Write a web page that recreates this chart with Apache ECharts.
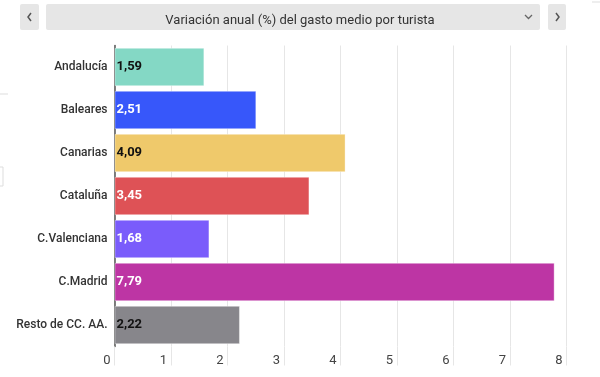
<!DOCTYPE html>
<html><head><meta charset="utf-8">
<script src="https://cdn.jsdelivr.net/npm/echarts@6/dist/echarts.min.js"></script>
<style>html,body{margin:0;padding:0;background:#fff}#c{width:600px;height:377px}</style>
</head><body><div id="c"></div>
<script>
const categories = ['Andalucía','Baleares','Canarias','Cataluña','C.Valenciana','C.Madrid','Resto de CC. AA.'];
const values = [1.59, 2.51, 4.09, 3.45, 1.68, 7.79, 2.22];
const barColors = ['#84d8c5','#3757fa','#efc96b','#de5256','#7a5cfb','#bd35a4','#87868b'];
const labelColors = ['#111','#fff','#111','#fff','#fff','#fff','#111'];
const xTicks = [0,1,2,3,4,5,6,7,8];
const titleText = 'Variación anual (%) del gasto medio por turista';

const chart = echarts.init(document.getElementById('c'));
const cats = categories.slice().reverse();
const vals = values.slice().reverse();
const cols = barColors.slice().reverse();
const lcols = labelColors.slice().reverse();
chart.setOption({
  animation: false,
  textStyle: {fontFamily: 'Roboto'},
  title: {text: titleText, left: 'center', top: 9,
    textStyle: {fontSize: 13, fontWeight: 'normal', color: '#333', fontFamily: 'Roboto'}},
  graphic: [
    {type:'rect', z:-1, shape:{x:20,y:4,width:19,height:26,r:2}, style:{fill:'#e6e6e6'}},
    {type:'rect', z:-1, shape:{x:46,y:4,width:494,height:26,r:2}, style:{fill:'#e6e6e6'}},
    {type:'rect', z:-1, shape:{x:548,y:4,width:18,height:26,r:2}, style:{fill:'#e6e6e6'}},
    {type:'polyline', shape:{points:[[31,13],[28,17],[31,21]]}, style:{stroke:'#555',lineWidth:1.5,fill:null}},
    {type:'polyline', shape:{points:[[556,13],[559,17],[556,21]]}, style:{stroke:'#555',lineWidth:1.5,fill:null}},
    {type:'polyline', shape:{points:[[525,15],[528.5,18.5],[532,15]]}, style:{stroke:'#666',lineWidth:1.3,fill:null}},
    {type:'line', shape:{x1:592,y1:2,x2:600,y2:2}, style:{stroke:'#ddd',lineWidth:1}},
    {type:'line', shape:{x1:0,y1:94,x2:8,y2:94}, style:{stroke:'#ddd',lineWidth:1}},
    {type:'rect', shape:{x:-1,y:167,width:4,height:19}, style:{stroke:'#ddd',lineWidth:1,fill:null}}
  ],
  grid: {left: 114.5, right: 33.5, top: 45.5, bottom: 30.5, containLabel: false},
  xAxis: {
    type: 'value', min: 0, max: 8, interval: 1,
    axisLine: {show: false},
    axisTick: {show: true, length: 19, lineStyle: {color: '#e6e6e6', width: 1}},
    splitLine: {show: true, lineStyle: {color: '#e6e6e6', width: 1}},
    axisLabel: {color: '#444', fontSize: 13, align: 'right', margin: 8, padding: [0,4,0,0],
      formatter: v => xTicks.includes(v) ? String(v) : ''}
  },
  yAxis: {
    type: 'category', data: cats,
    axisLine: {show: true, lineStyle: {color: '#555', width: 1.5}},
    axisTick: {show: false},
    axisLabel: {color: '#333', fontSize: 12, fontWeight: 500, margin: 7}
  },
  series: [{
    type: 'bar',
    barCategoryGap: '11%',
    data: vals.map((v,i) => ({value: v,
      itemStyle: {color: cols[i], borderColor: 'rgba(255,255,255,0.35)', borderWidth: 1},
      label: {color: lcols[i]}})),
    label: {show: true, position: 'insideLeft', distance: 2, fontSize: 13, fontWeight: 'bold',
      formatter: p => p.value.toFixed(2).replace('.', ',')}
  }]
});
</script></body></html>
